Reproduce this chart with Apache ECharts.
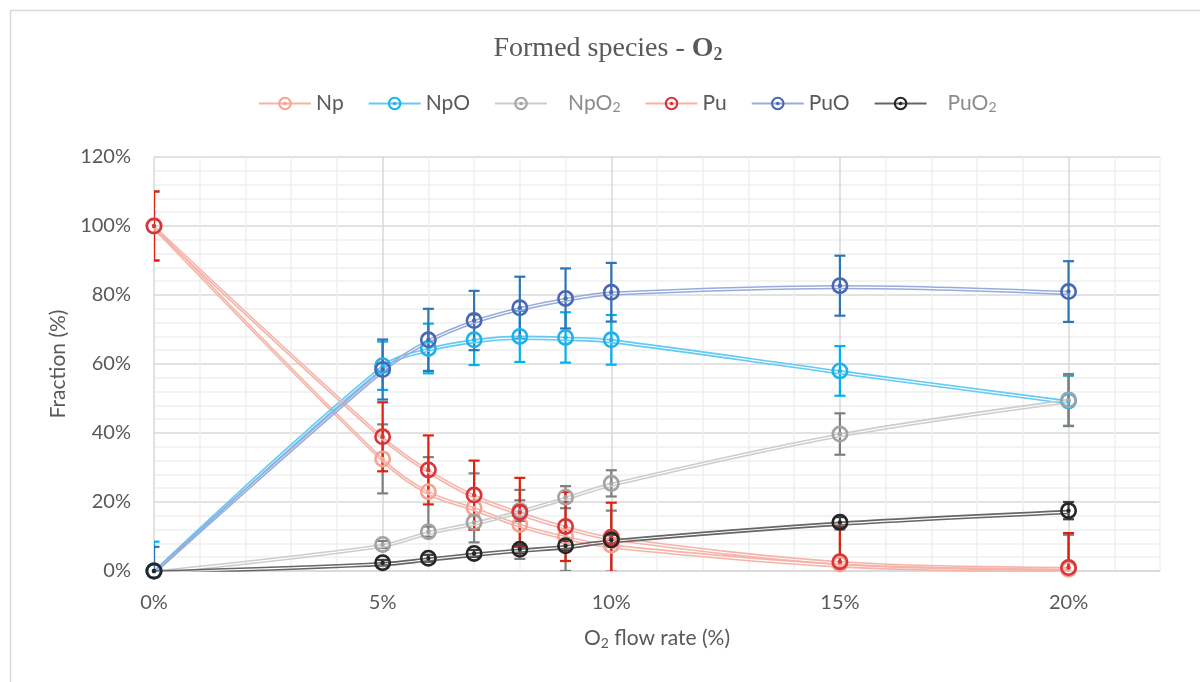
<!DOCTYPE html>
<html><head><meta charset="utf-8">
<script src="https://cdn.jsdelivr.net/npm/echarts@6/dist/echarts.min.js"></script>
<style>html,body{margin:0;padding:0;background:#fff}#c{width:1200px;height:682px}</style>
</head><body><div id="c"></div>
<script>
// O2 flow rate (%)
const xValues = [0, 5, 6, 7, 8, 9, 10, 15, 20];
// Fractions (%)
const npVals   = [100, 32.5, 23, 18.3, 13.5, 10, 7.5, 2, 0.5];
const npoVals  = [0, 59.5, 64.5, 67, 68, 67.7, 67, 58, 49.3];
const npo2Vals = [0, 7.7, 11.4, 14.1, 17.5, 21.4, 25.4, 39.7, 49.6];
const puVals   = [100, 38.9, 29.3, 22, 17, 12.9, 9.8, 2.7, 1];
const puoVals  = [0, 58.4, 67, 72.6, 76.3, 79, 80.8, 82.7, 81];
const puo2Vals = [0, 2.4, 3.7, 5.1, 6.3, 7.3, 9, 14.1, 17.5];
// Error bar half-widths (%)
const npErr   = [10, 10, 10, 10, 10, 10, 10, 10, 10];
const npoErr  = [8.5, 7, 7.2, 7.3, 7.4, 7.3, 7.2, 7.2, 7.3];
const npo2Err = [0, 1, 1.5, 2, 3, 3.2, 3.8, 6, 7.5];
const puErr   = [10, 10, 10, 10, 10, 10, 10, 10, 10];
const puoErr  = [7, 8.7, 9, 8.6, 9, 8.7, 8.5, 8.7, 8.8];
const puo2Err = [0, 0.8, 1, 1, 1.2, 1.3, 1.5, 1.5, 2.5];

const seriesNames = ['Np', 'NpO', 'NpO2', 'Pu', 'PuO', 'PuO2'];

const species = [
  {name: 'Np',   vals: npVals,   err: npErr,   line: '#f7b3a8', marker: '#f5a393', errColor: '#7f7f7f'},
  {name: 'NpO',  vals: npoVals,  err: npoErr,  line: '#62caf3', marker: '#1fb2ea', errColor: '#00b0f0'},
  {name: 'NpO2', vals: npo2Vals, err: npo2Err, line: '#cdcdcd', marker: '#a3a3a3', errColor: '#7f7f7f'},
  {name: 'Pu',   vals: puVals,   err: puErr,   line: '#f5b4ab', marker: '#d6363a', errColor: '#e0200f'},
  {name: 'PuO',  vals: puoVals,  err: puoErr,  line: '#97acdc', marker: '#4a67b0', errColor: '#2e75b6'},
  {name: 'PuO2', vals: puo2Vals, err: puo2Err, line: '#666666', marker: '#262626', errColor: '#404040'}
];

const ringSymbol = 'path://M0 -10A10 10 0 1 1 0 10A10 10 0 1 1 0 -10Z' +
  'M0 -6.9A6.9 6.9 0 1 0 0 6.9A6.9 6.9 0 1 0 0 -6.9Z' +
  'M0 -2.6A2.6 2.6 0 1 1 0 2.6A2.6 2.6 0 1 1 0 -2.6Z';

const series = [];
species.forEach(function (s) {
  series.push({
    name: s.name,
    type: 'line',
    smooth: 0.35,
    data: xValues.map(function (x, i) { return [x, s.vals[i]]; }),
    symbol: ringSymbol,
    symbolSize: 17,
    showAllSymbol: true,
    itemStyle: {color: s.marker},
    lineStyle: {color: s.line, width: 1.6, shadowColor: s.line, shadowOffsetY: 2.8, shadowBlur: 0},
    emphasis: {disabled: true},
    animation: false
  });
  series.push({
    name: s.name + ' err',
    type: 'custom',
    clip: true,
    silent: true,
    animation: false,
    data: xValues.map(function (x, i) { return [x, s.vals[i] - s.err[i], s.vals[i] + s.err[i]]; }),
    encode: {x: 0, y: [1, 2]},
    renderItem: function (params, api) {
      const x = api.value(0), lo = api.value(1), hi = api.value(2);
      if (hi - lo < 1e-9) return null;
      const a = api.coord([x, lo]), b = api.coord([x, hi]);
      const w = 5.5;
      const st = {stroke: s.errColor, lineWidth: 2.2};
      return {type: 'group', children: [
        {type: 'line', shape: {x1: a[0], y1: a[1], x2: b[0], y2: b[1]}, style: st},
        {type: 'line', shape: {x1: b[0] - w, y1: b[1], x2: b[0] + w, y2: b[1]}, style: st},
        {type: 'line', shape: {x1: a[0] - w, y1: a[1], x2: a[0] + w, y2: a[1]}, style: st}
      ]};
    }
  });
});

const legendLabel = {
  Np: '{n|Np}', NpO: '{n|NpO}', NpO2: '{g|NpO}{gs|2}',
  Pu: '{n|Pu}', PuO: '{n|PuO}', PuO2: '{g|PuO}{gs|2}'
};

const gridColors = ['#d9d9d9', '#efefef', '#efefef', '#efefef', '#efefef'];

const chart = echarts.init(document.getElementById('c'), null, {renderer: 'canvas'});
chart.setOption({
  animation: false,
  backgroundColor: '#ffffff',
  graphic: [{
    type: 'rect', left: 8, top: 8, silent: true,
    shape: {width: 1400, height: 900},
    style: {fill: 'none', stroke: '#d9d9d9', lineWidth: 1.5}
  }],
  title: {
    text: '{a|Formed species - }{b|O}{c|2}',
    left: 608, top: 34, padding: 0,
    textAlign: 'center',
    textStyle: {
      fontWeight: 'normal',
      rich: {
        a: {fontFamily: 'Liberation Serif', fontSize: 28, fontWeight: 'normal', color: '#595959'},
        b: {fontFamily: 'Liberation Serif', fontSize: 28, fontWeight: 'bold', color: '#595959'},
        c: {fontFamily: 'Liberation Serif', fontSize: 18, fontWeight: 'bold', color: '#595959', padding: [12, 0, 0, 0]}
      }
    }
  },
  legend: {
    data: seriesNames,
    left: 258, top: 93, padding: 0,
    itemWidth: 52, itemHeight: 17, itemGap: 24,
    formatter: function (n) { return legendLabel[n]; },
    textStyle: {
      rich: {
        n: {fontFamily: 'Lato', fontSize: 21, color: '#595959'},
        g: {fontFamily: 'Lato', fontSize: 21, color: '#8c8c8c', padding: [0, 0, 0, 16]},
        gs: {fontFamily: 'Lato', fontSize: 14, color: '#8c8c8c', padding: [7, 0, 0, 0]}
      }
    }
  },
  grid: {left: 154, right: 40, top: 157, bottom: 111, containLabel: false},
  xAxis: {
    type: 'value', min: 0, max: 22, interval: 1,
    name: '{o|O}{s|2}{o| flow rate (%)}',
    nameLocation: 'middle', nameGap: 56,
    nameTextStyle: {
      rich: {
        o: {fontFamily: 'Lato', fontSize: 21, color: '#595959'},
        s: {fontFamily: 'Lato', fontSize: 14, color: '#595959', padding: [9, 0, 0, 0]}
      }
    },
    axisLine: {show: true, lineStyle: {color: '#d9d9d9', width: 1.5}},
    axisTick: {show: false},
    axisLabel: {
      margin: 22, fontFamily: 'Lato', fontSize: 20, color: '#595959',
      formatter: function (v) { const r = Math.round(v); return r % 5 === 0 ? r + '%' : ''; }
    },
    splitLine: {show: true, lineStyle: {color: gridColors, width: 1.5}}
  },
  yAxis: {
    type: 'value', min: 0, max: 120, interval: 4,
    name: 'Fraction (%)',
    nameLocation: 'middle', nameGap: 85,
    nameTextStyle: {fontFamily: 'Lato', fontSize: 21, color: '#595959'},
    axisLine: {show: false},
    axisTick: {show: false},
    axisLabel: {
      margin: 23, fontFamily: 'Lato', fontSize: 20, color: '#595959',
      formatter: function (v) { const r = Math.round(v); return r % 20 === 0 ? r + '%' : ''; }
    },
    splitLine: {show: true, lineStyle: {color: gridColors, width: 1.5}}
  },
  series: series
});
</script>
</body></html>
